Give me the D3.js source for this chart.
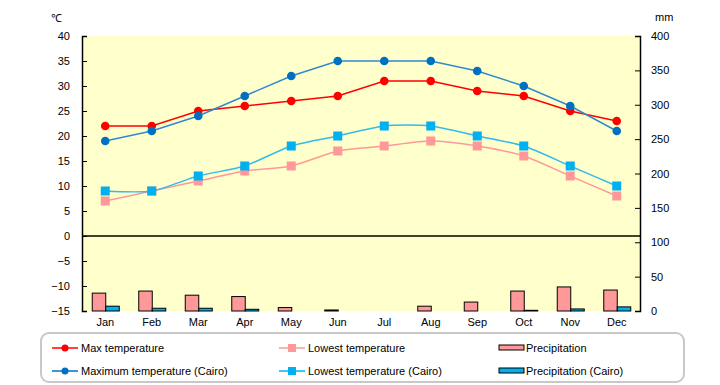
<!DOCTYPE html>
<html><head><meta charset="utf-8">
<script src="https://cdn.jsdelivr.net/npm/d3@7/dist/d3.min.js"></script>
<style>body{margin:0;background:#fff}svg{display:block}text{font-family:"Liberation Sans",Arial,sans-serif;font-size:11px;fill:#000}</style>
</head><body><svg id="c" width="720" height="385"></svg>
<script>
const months = ["Jan","Feb","Mar","Apr","May","Jun","Jul","Aug","Sep","Oct","Nov","Dec"];
const maxTemp = [22,22,25,26,27,28,31,31,29,28,25,23];
const maxTempCairo = [19,21,24,28,32,35,35,35,33,30,26,21];
const lowTemp = [7,9,11,13,14,17,18,19,18,16,12,8];
const lowTempCairo = [9,9,12,14,18,20,22,22,20,18,14,10];
const precip = [26,29,23,21,5,1.5,0,7,13,29,35,30.5];
const precipCairo = [7,4,4,2.5,0,0,0,0,0,1,3,6];
const tempTicks = [-15,-10,-5,0,5,10,15,20,25,30,35,40];
const mmTicks = [0,50,100,150,200,250,300,350,400];

const svg = d3.select("#c");
const L=82,R=640,T=36,B=311;
const x = d3.scaleBand().domain(months).range([L,R]);
const yT = d3.scaleLinear().domain([-15,40]).range([B,T]);
const yP = d3.scaleLinear().domain([0,400]).range([B,T]);
const xs = d3.scaleBand().domain(["a","b"]).range([0,27]);

svg.append("rect").attr("x",L).attr("y",T).attr("width",R-L).attr("height",B-T).attr("fill","#FFFFCC");

// bars
const bw = xs.bandwidth();
function bars(data,key,color){
  svg.append("g").selectAll("rect").data(data.map((v,i)=>({m:months[i],v}))).join("rect")
    .filter(d=>d.v>0)
    .attr("x",d=>x(d.m)+x.bandwidth()/2-13.5+xs(key)+0.5)
    .attr("y",d=>yP(d.v))
    .attr("width",bw)
    .attr("height",d=>B-yP(d.v))
    .attr("fill",color).attr("stroke","#000").attr("stroke-width",1);
}
bars(precip,"a","#FF9999");
bars(precipCairo,"b","#00B0F0");

// zero line
svg.append("line").attr("x1",L).attr("x2",R).attr("y1",yT(0)).attr("y2",yT(0)).attr("stroke","#000").attr("stroke-width",1.5);

// axes
const gl = svg.append("g").attr("transform",`translate(${L},0)`)
  .call(d3.axisRight(yT).tickValues(tempTicks).tickSize(5).tickFormat(d=>d<0?"\u2212"+Math.abs(d):d));
gl.select(".domain").attr("stroke","#000").attr("stroke-width",1.5);
gl.selectAll(".tick text").attr("x",-12).attr("text-anchor","end").attr("font-size",11);
const gr = svg.append("g").attr("transform",`translate(${R},0)`)
  .call(d3.axisLeft(yP).tickValues(mmTicks).tickSize(5));
gr.select(".domain").attr("stroke","#000").attr("stroke-width",1.5);
gr.selectAll(".tick text").attr("x",11).attr("text-anchor","start").attr("font-size",11);
svg.selectAll(".tick line").attr("stroke","#000");

const gx = svg.append("g").attr("transform",`translate(0,${B})`)
  .call(d3.axisBottom(x).tickSize(0).tickPadding(7));
gx.select(".domain").remove();
gx.selectAll("text").attr("font-size",11);

svg.append("text").attr("x",51).attr("y",22).text("\u2103");
svg.append("text").attr("x",655).attr("y",21).text("mm");

// lines
const cx = i=>x(months[i])+x.bandwidth()/2;
function series(data,color,lineColor,curve,shape){
  const line = d3.line().x((d,i)=>cx(i)).y(d=>yT(d)).curve(curve);
  svg.append("path").attr("d",line(data)).attr("fill","none").attr("stroke",lineColor).attr("stroke-width",1.5);
  const g = svg.append("g");
  if(shape==="circle"){
    g.selectAll("circle").data(data).join("circle").attr("cx",(d,i)=>cx(i)).attr("cy",d=>yT(d)).attr("r",4.3).attr("fill",color);
  } else {
    g.selectAll("rect").data(data).join("rect").attr("x",(d,i)=>cx(i)-4.5).attr("y",d=>yT(d)-4.5).attr("width",9).attr("height",9).attr("fill",color);
  }
}
series(lowTemp,"#FF9999","#FF9999",d3.curveCardinal.tension(0.3),"square");
series(lowTempCairo,"#00B0F0","#33BBEE",d3.curveCardinal.tension(0.3),"square");
series(maxTemp,"#FF0000","#FF0000",d3.curveLinear,"circle");
series(maxTempCairo,"#0070C0","#2E8BD0",d3.curveLinear,"circle");

// legend
svg.append("rect").attr("x",41).attr("y",333).attr("width",643).attr("height",49).attr("rx",8)
  .attr("fill","#fff").attr("stroke","#C8C8C8").attr("stroke-width",2);
const leg = [
  {t:"Max temperature",c:"#FF0000",x:52,y:348,k:"circle"},
  {t:"Maximum temperature (Cairo)",c:"#0070C0",x:52,y:371,k:"circle"},
  {t:"Lowest temperature",c:"#FF9999",x:279,y:348,k:"square"},
  {t:"Lowest temperature (Cairo)",c:"#00B0F0",x:279,y:371,k:"square"},
  {t:"Precipitation",c:"#FF9999",x:499,y:348,k:"bar"},
  {t:"Precipitation (Cairo)",c:"#00B0F0",x:499,y:371,k:"bar"}
];
leg.forEach(d=>{
  const g = svg.append("g");
  if(d.k==="bar"){
    g.append("rect").attr("x",d.x).attr("y",d.y-3).attr("width",25).attr("height",5).attr("fill",d.c).attr("stroke","#000").attr("stroke-width",1);
  } else {
    g.append("line").attr("x1",d.x).attr("x2",d.x+26).attr("y1",d.y).attr("y2",d.y).attr("stroke",d.c).attr("stroke-width",1.5);
    if(d.k==="circle") g.append("circle").attr("cx",d.x+13).attr("cy",d.y).attr("r",3.5).attr("fill",d.c);
    else g.append("rect").attr("x",d.x+9).attr("y",d.y-4).attr("width",8).attr("height",8).attr("fill",d.c);
  }
  g.append("text").attr("x",d.x+(d.k==="bar"?27:29)).attr("y",d.y+4).text(d.t);
});
</script></body></html>
